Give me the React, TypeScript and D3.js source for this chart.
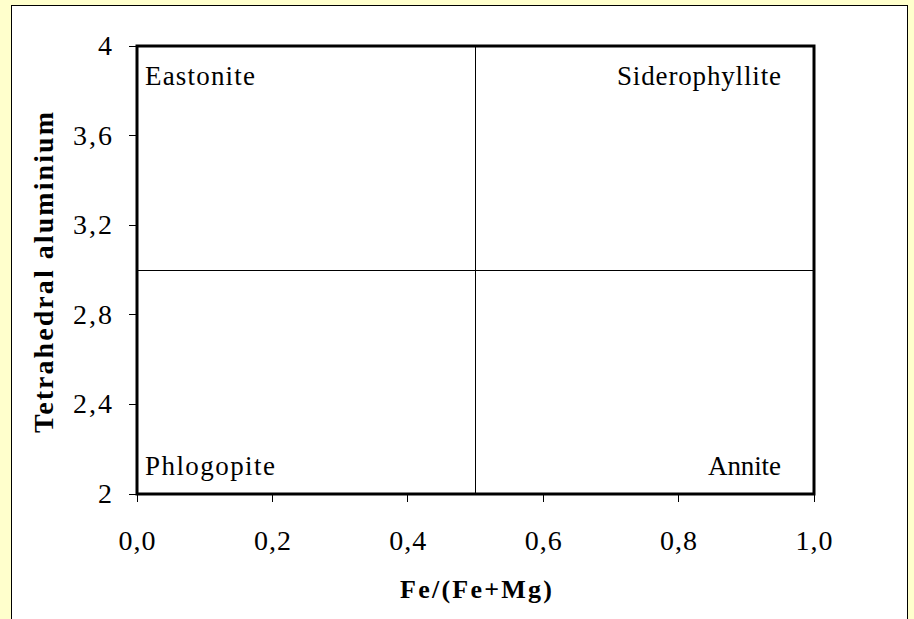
import React from "react";
import * as d3 from "d3";

const xTicks = [0, 0.2, 0.4, 0.6, 0.8, 1.0];
const yTicks = [2, 2.4, 2.8, 3.2, 3.6, 4];
const xDivider = [0.5];
const yDivider = [3];
const fieldNames = ["Eastonite", "Siderophyllite", "Phlogopite", "Annite"];
const fieldX = [0, 1, 0, 1];
const fieldY = [4, 4, 2, 2];
const fieldWidths = [110, 164, 130, 73];

const W = 914;
const H = 619;
const L = 137, R = 814, T = 46, B = 494;

export default function App() {
  const x = d3.scaleLinear().domain([0, 1]).range([L, R]);
  const y = d3.scaleLinear().domain([2, 4]).range([B, T]);
  const fmtX = (v: number) => v.toFixed(1).replace(".", ",");
  const fmtY = (v: number) => (Number.isInteger(v) ? String(v) : v.toFixed(1).replace(".", ","));
  const font = "'Liberation Serif', 'Times New Roman', serif";
  return (
    <svg width={W} height={H} style={{ position: "absolute", left: 0, top: 0 }} fontFamily={font}>
      <rect x={0} y={0} width={W} height={H} fill="#FFFFCC" />
      <rect x={11.5} y={5.5} width={896} height={H} fill="#FFFFFF" stroke="#000" strokeWidth={1} />
      {xDivider.map((d) => (
        <line key={"xd" + d} x1={x(d)} x2={x(d)} y1={T} y2={B} stroke="#000" strokeWidth={1} shapeRendering="crispEdges" />
      ))}
      {yDivider.map((d) => (
        <line key={"yd" + d} x1={L} x2={R} y1={y(d)} y2={y(d)} stroke="#000" strokeWidth={1} shapeRendering="crispEdges" />
      ))}
      <rect x={L} y={T} width={R - L} height={B - T} fill="none" stroke="#000" strokeWidth={3} />
      {xTicks.map((t) => (
        <g key={"xt" + t}>
          <line x1={x(t)} x2={x(t)} y1={B} y2={B + 8} stroke="#000" strokeWidth={1} shapeRendering="crispEdges" />
          <text x={x(t)} y={550} fontSize={28} textAnchor="middle" fill="#000" textLength={37} lengthAdjust="spacing">{fmtX(t)}</text>
        </g>
      ))}
      {yTicks.map((t) => {
        const s = fmtY(t);
        return (
          <g key={"yt" + t}>
            <line x1={L - 8} x2={L} y1={y(t)} y2={y(t)} stroke="#000" strokeWidth={1} shapeRendering="crispEdges" />
            <text x={112} y={y(t) + 9} fontSize={28} textAnchor="end" fill="#000"
              {...(s.length > 1 ? { textLength: 39, lengthAdjust: "spacing" } : {})}>{s}</text>
          </g>
        );
      })}
      {fieldNames.map((n, i) => {
        const left = fieldX[i] === 0;
        const top = fieldY[i] === 4;
        const w = fieldWidths[i];
        const x0 = left ? x(fieldX[i]) + 8 : x(fieldX[i]) - 33 - w;
        return (
          <text
            key={n}
            x={x0}
            y={top ? y(fieldY[i]) + 39 : y(fieldY[i]) - 19}
            fontSize={27}
            textAnchor="start"
            fill="#000"
            textLength={w}
            lengthAdjust="spacing"
          >
            {n}
          </text>
        );
      })}
      <text x={400} y={598} fontSize={26} fontWeight="bold" textAnchor="start" fill="#000"
        textLength={152} lengthAdjust="spacing">
        Fe/(Fe+Mg)
      </text>
      <text
        transform={`translate(53, 433) rotate(-90)`}
        fontSize={28}
        fontWeight="bold"
        textAnchor="start"
        fill="#000"
        textLength={321}
        lengthAdjust="spacing"
      >
        Tetrahedral aluminium
      </text>
    </svg>
  );
}
